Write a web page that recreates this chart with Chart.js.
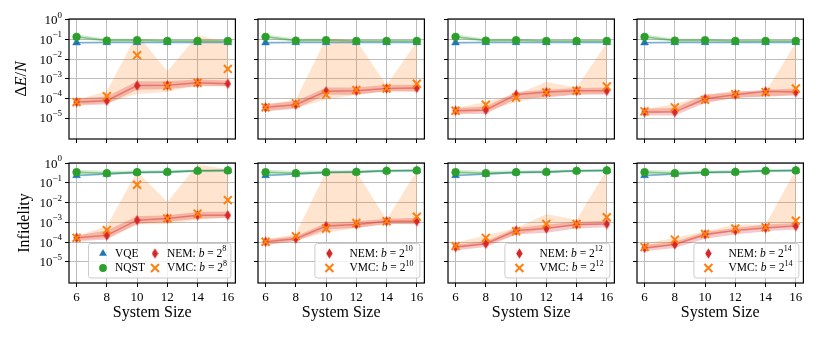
<!DOCTYPE html>
<html>
<head>
<meta charset="utf-8">
<script src="https://cdn.jsdelivr.net/npm/chart.js@4.4.0/dist/chart.umd.min.js"></script>
<style>
  html, body { margin: 0; padding: 0; background: #fff; }
  #wrap { position: relative; width: 822px; height: 338px; overflow: hidden; background: #fff; }
  #wrap canvas { position: absolute; }
</style>
</head>
<body>
<div id="wrap"></div>
<script>
// x axis: system sizes
const sizes = [6, 8, 10, 12, 14, 16];
const xTicks = [6, 8, 10, 12, 14, 16];
const yDecades = [0, -1, -2, -3, -4, -5];
const batchExp = [8, 10, 12, 14];

// --- top row: ΔE/N (VQE / NQST shared by all panels)
const vqeE   = [0.070, 0.072, 0.072, 0.072, 0.072, 0.072];
const vqeELo = [0.064, 0.066, 0.066, 0.066, 0.066, 0.066];
const vqeEHi = [0.077, 0.079, 0.079, 0.079, 0.079, 0.079];
const nqstE   = [0.138, 0.089, 0.093, 0.085, 0.085, 0.085];
const nqstELo = [0.110, 0.076, 0.078, 0.075, 0.075, 0.075];
const nqstEHi = [0.180, 0.115, 0.110, 0.100, 0.100, 0.100];

// b = 2^8
const nemE8    = [6.5e-5, 7.6e-5, 4.5e-4, 4.7e-4, 6.2e-4, 5.6e-4];
const nemE8Lo  = [4.4e-5, 5.1e-5, 2.8e-4, 3.0e-4, 4.2e-4, 4.2e-4];
const nemE8Hi  = [1.0e-4, 1.26e-4, 7.4e-4, 7.4e-4, 9.1e-4, 8.1e-4];
const vmcE8    = [6.5e-5, 1.3e-4, 1.6e-2, 4.3e-4, 6.3e-4, 3.2e-3];
const vmcE8Lo  = [4.8e-5, 5.8e-5, 1.66e-4, 2.1e-4, 4.7e-4, 4.2e-4];
const vmcE8Hi  = [8.5e-5, 2.3e-4, 0.195, 2.4e-3, 0.166, 0.068];
// b = 2^10
const nemE10   = [3.5e-5, 4.8e-5, 2.3e-4, 2.45e-4, 3.2e-4, 3.4e-4];
const nemE10Lo = [2.2e-5, 2.95e-5, 1.55e-4, 1.55e-4, 2.3e-4, 2.3e-4];
const nemE10Hi = [5.1e-5, 7.1e-5, 3.6e-4, 3.6e-4, 5.0e-4, 5.0e-4];
const vmcE10   = [3.5e-5, 5.6e-5, 1.55e-4, 2.7e-4, 3.2e-4, 5.6e-4];
const vmcE10Lo = [2.3e-5, 3.2e-5, 8.5e-5, 1.55e-4, 2.3e-4, 2.1e-4];
const vmcE10Hi = [5.1e-5, 8.5e-5, 0.112, 0.089, 4.7e-4, 0.081];
// b = 2^12
const nemE12   = [2.35e-5, 2.6e-5, 1.55e-4, 2.1e-4, 2.45e-4, 2.45e-4];
const nemE12Lo = [1.6e-5, 1.6e-5, 9.5e-5, 1.1e-4, 1.55e-4, 1.65e-4];
const nemE12Hi = [3.2e-5, 3.9e-5, 2.1e-4, 2.8e-4, 3.4e-4, 3.6e-4];
const vmcE12   = [2.35e-5, 4.8e-5, 1.1e-4, 2.0e-4, 2.45e-4, 4.1e-4];
const vmcE12Lo = [1.6e-5, 2.2e-5, 6.5e-5, 1.26e-4, 1.65e-4, 1.65e-4];
const vmcE12Hi = [3.2e-5, 6.5e-5, 1.65e-4, 6.9e-4, 3.6e-4, 0.068];
// b = 2^14
const nemE14   = [2.0e-5, 2.0e-5, 9.5e-5, 1.55e-4, 2.3e-4, 2.1e-4];
const nemE14Lo = [1.35e-5, 1.35e-5, 5.8e-5, 1.05e-4, 1.26e-4, 1.4e-4];
const nemE14Hi = [2.95e-5, 3.2e-5, 1.55e-4, 2.1e-4, 2.8e-4, 3.2e-4];
const vmcE14   = [2.2e-5, 3.5e-5, 8.5e-5, 1.65e-4, 2.1e-4, 3.2e-4];
const vmcE14Lo = [1.6e-5, 2.2e-5, 6.5e-5, 1.1e-4, 1.26e-4, 1.55e-4];
const vmcE14Hi = [2.95e-5, 5.1e-5, 1.55e-4, 2.45e-4, 2.1e-4, 0.068];

// --- bottom row: infidelity
const vqeI   = [0.24, 0.28, 0.34, 0.36, 0.41, 0.43];
const vqeILo = [0.21, 0.25, 0.30, 0.32, 0.37, 0.39];
const vqeIHi = [0.27, 0.31, 0.38, 0.40, 0.45, 0.47];
const nqstI   = [0.35, 0.31, 0.35, 0.36, 0.41, 0.43];
const nqstILo = [0.26, 0.26, 0.30, 0.31, 0.35, 0.36];
const nqstIHi = [0.46, 0.41, 0.43, 0.45, 0.48, 0.50];

const nemI8    = [1.66e-4, 2.2e-4, 1.3e-3, 1.6e-3, 2.3e-3, 2.3e-3];
const nemI8Lo  = [1.1e-4, 1.35e-4, 8.3e-4, 1.07e-3, 1.55e-3, 1.7e-3];
const nemI8Hi  = [2.2e-4, 3.9e-4, 2.05e-3, 2.3e-3, 3.4e-3, 3.6e-3];
const vmcI8    = [1.66e-4, 4.1e-4, 0.081, 1.6e-3, 2.8e-3, 1.35e-2];
const vmcI8Lo  = [1.2e-4, 1.66e-4, 7.8e-4, 8.3e-4, 1.38e-3, 1.7e-3];
const vmcI8Hi  = [2.0e-4, 6.5e-4, 0.38, 1.07e-2, 0.83, 0.51];

const nemI10   = [1.05e-4, 1.5e-4, 6.5e-4, 7.8e-4, 1.15e-3, 1.15e-3];
const nemI10Lo = [7.1e-5, 1.12e-4, 4.4e-4, 5.2e-4, 8.3e-4, 8.3e-4];
const nemI10Hi = [1.35e-4, 2.0e-4, 9.3e-4, 1.15e-3, 1.55e-3, 1.7e-3];
const vmcI10   = [1.05e-4, 2.0e-4, 4.9e-4, 9.3e-4, 1.15e-3, 1.95e-3];
const vmcI10Lo = [7.1e-5, 1.2e-4, 2.95e-4, 5.2e-4, 8.3e-4, 7.8e-4];
const vmcI10Hi = [1.35e-4, 2.6e-4, 0.38, 0.38, 1.38e-3, 0.41];

const nemI12   = [5.6e-5, 8.3e-5, 3.9e-4, 4.9e-4, 7.8e-4, 8.3e-4];
const nemI12Lo = [3.8e-5, 5.6e-5, 2.45e-4, 2.95e-4, 4.9e-4, 5.7e-4];
const nemI12Hi = [7.6e-5, 1.12e-4, 5.2e-4, 7.8e-4, 1.07e-3, 1.23e-3];
const vmcI12   = [6.3e-5, 1.66e-4, 3.55e-4, 8.3e-4, 8.3e-4, 1.82e-3];
const vmcI12Lo = [4.8e-5, 7.1e-5, 2.45e-4, 4.9e-4, 6.5e-4, 8.3e-4];
const vmcI12Hi = [9.3e-5, 2.2e-4, 5.2e-4, 2.7e-3, 1.38e-3, 0.46];

const nemI14   = [5.1e-5, 7.6e-5, 2.45e-4, 3.9e-4, 5.2e-4, 6.5e-4];
const nemI14Lo = [3.5e-5, 5.1e-5, 1.5e-4, 2.45e-4, 3.55e-4, 4.4e-4];
const nemI14Hi = [7.1e-5, 1.05e-4, 3.3e-4, 5.2e-4, 7.8e-4, 9.3e-4];
const vmcI14   = [5.6e-5, 1.35e-4, 2.6e-4, 4.9e-4, 5.7e-4, 1.23e-3];
const vmcI14Lo = [4.3e-5, 7.1e-5, 2.0e-4, 3.9e-4, 4.9e-4, 6.5e-4];
const vmcI14Hi = [8.3e-5, 1.66e-4, 3.55e-4, 7.8e-4, 7.8e-4, 0.46];

// layout
const plotLeft = [69, 258, 448, 637];
const plotTop = [19, 163];
const plotW = 168, plotH = 120;
const yRange = [[Math.pow(10, -6.07), Math.pow(10, 0.05)], [Math.pow(10, -6.07), Math.pow(10, 0.01)]];

const SERIF = '"Liberation Serif", "DejaVu Serif", serif';
const BLUE = '#1f77b4', GREEN = '#2ca02c', RED = '#d62728', ORANGE = '#ff7f0e';
const GRID = '#bdbdbd';

Chart.defaults.font.family = SERIF;

// thin diamond marker (matplotlib 'd')
const diamond = document.createElement('canvas');
diamond.width = 7; diamond.height = 11;
(function() {
    const c = diamond.getContext('2d');
    c.fillStyle = RED;
    c.beginPath();
    c.moveTo(3.5, 0.3); c.lineTo(6.7, 5.5); c.lineTo(3.5, 10.7); c.lineTo(0.3, 5.5);
    c.closePath();
    c.fill();
})();

function fnt(size, it) { return (it ? 'italic ' : '') + size + 'px ' + SERIF; }

function richWidth(ctx, parts) {
    let w = 0;
    parts.forEach(function(p) { ctx.font = fnt(p.size, p.it); w += ctx.measureText(p.t).width; });
    return w;
}

function drawRich(ctx, parts, x, y) {
    ctx.textBaseline = 'middle';
    ctx.textAlign = 'left';
    parts.forEach(function(p) {
        ctx.font = fnt(p.size, p.it);
        ctx.fillText(p.t, x, y + (p.dy || 0));
        x += ctx.measureText(p.t).width;
    });
}

function drawMarker(ctx, kind, x, y) {
    ctx.save();
    if (kind === 'tri') {
        const r = 4.5;
        ctx.fillStyle = BLUE;
        ctx.beginPath();
        ctx.moveTo(x, y - r);
        ctx.lineTo(x + r * 0.866, y + r * 0.5);
        ctx.lineTo(x - r * 0.866, y + r * 0.5);
        ctx.closePath();
        ctx.fill();
    } else if (kind === 'circ') {
        ctx.fillStyle = GREEN;
        ctx.beginPath();
        ctx.arc(x, y, 3.9, 0, Math.PI * 2);
        ctx.fill();
    } else if (kind === 'dia') {
        ctx.drawImage(diamond, x - 3.5, y - 5.5);
    } else {
        ctx.strokeStyle = ORANGE;
        ctx.lineWidth = 2;
        ctx.beginPath();
        ctx.moveTo(x - 4, y - 4); ctx.lineTo(x + 4, y + 4);
        ctx.moveTo(x - 4, y + 4); ctx.lineTo(x + 4, y - 4);
        ctx.stroke();
    }
    ctx.restore();
}

function pts(arr) {
    return sizes.map(function(s, i) { return { x: s, y: arr[i] }; });
}

function band(hi, lo, color, order) {
    return [
        { data: pts(hi), fill: '+1', backgroundColor: color, borderColor: 'transparent', borderWidth: 0, pointRadius: 0, order: order },
        { data: pts(lo), fill: false, borderColor: 'transparent', borderWidth: 0, pointRadius: 0, order: order }
    ];
}

// decorations: frame, y tick labels, y title, legend
function decoPlugin(p) {
    return {
        id: 'deco',
        afterDraw: function(chart) {
            const ctx = chart.ctx, ca = chart.chartArea;
            ctx.save();
            ctx.strokeStyle = '#000';
            ctx.lineWidth = 1.2;
            ctx.strokeRect(ca.left, ca.top, ca.right - ca.left, ca.bottom - ca.top);
            ctx.fillStyle = '#000';

            if (p.col === 0) {
                const ys = chart.scales.y;
                yDecades.forEach(function(k) {
                    const y = ys.getPixelForValue(Math.pow(10, k));
                    const parts = [
                        { t: '10', size: 13 },
                        { t: k === 0 ? '0' : '\u2212' + (-k), size: 9, dy: -5.5 }
                    ];
                    drawRich(ctx, parts, ca.left - 7 - richWidth(ctx, parts), y + 1);
                });
                const title = p.row === 0
                    ? [{ t: '\u0394', size: 16 }, { t: 'E', size: 16, it: true }, { t: '/', size: 16 }, { t: 'N', size: 16, it: true }]
                    : [{ t: 'Infidelity', size: 16 }];
                const cy = (ca.top + ca.bottom) / 2;
                ctx.save();
                ctx.translate(p.row === 0 ? 22 : 25, cy);
                ctx.rotate(-Math.PI / 2);
                drawRich(ctx, title, -richWidth(ctx, title) / 2, 0);
                ctx.restore();
            }

            if (p.row === 1) drawLegend(ctx, ca, p);
            ctx.restore();
        }
    };
}

function drawLegend(ctx, ca, p) {
    const right = ca.right - 5;
    const top = ca.bottom - 40;
    const bottom = ca.bottom - 5.5;
    const left = p.col === 0 ? ca.left + 19 : right - 105;
    const rows = [ca.bottom - 29.5, ca.bottom - 15];

    ctx.save();
    ctx.beginPath();
    ctx.roundRect(left + 0.5, top + 0.5, right - left, bottom - top, 2.5);
    ctx.fillStyle = 'rgba(255,255,255,0.8)';
    ctx.fill();
    ctx.strokeStyle = '#cccccc';
    ctx.lineWidth = 1;
    ctx.stroke();
    ctx.restore();

    const LS = 11.5;
    const exp = String(p.b);
    const nemLabel = [{ t: 'NEM: ', size: LS }, { t: 'b', size: LS, it: true }, { t: ' = 2', size: LS }, { t: exp, size: 8, dy: -4.5 }];
    const vmcLabel = [{ t: 'VMC: ', size: LS }, { t: 'b', size: LS, it: true }, { t: ' = 2', size: LS }, { t: exp, size: 8, dy: -4.5 }];

    ctx.fillStyle = '#000';
    if (p.col === 0) {
        drawMarker(ctx, 'tri', left + 15, rows[0]);
        drawRich(ctx, [{ t: 'VQE', size: LS }], left + 27, rows[0]);
        drawMarker(ctx, 'circ', left + 15, rows[1]);
        drawRich(ctx, [{ t: 'NQST', size: LS }], left + 27, rows[1]);
        drawMarker(ctx, 'dia', left + 67, rows[0]);
        drawRich(ctx, nemLabel, left + 79, rows[0]);
        drawMarker(ctx, 'x', left + 67, rows[1]);
        drawRich(ctx, vmcLabel, left + 79, rows[1]);
    } else {
        drawMarker(ctx, 'dia', left + 15, rows[0]);
        drawRich(ctx, nemLabel, left + 35, rows[0]);
        drawMarker(ctx, 'x', left + 15, rows[1]);
        drawRich(ctx, vmcLabel, left + 35, rows[1]);
    }
}

function makeChart(p) {
    const wrap = document.getElementById('wrap');
    const yW = p.col === 0 ? 69 : 12;
    const xH = p.row === 1 ? 55 : 8;
    const w = yW + plotW + 6, h = 10 + plotH + xH;
    const cv = document.createElement('canvas');
    cv.width = w; cv.height = h;
    cv.style.width = w + 'px'; cv.style.height = h + 'px';
    cv.style.left = (plotLeft[p.col] - yW) + 'px';
    cv.style.top = (plotTop[p.row] - 10) + 'px';
    wrap.appendChild(cv);

    const datasets = []
        .concat(band(p.vqeHi, p.vqeLo, 'rgba(31,119,180,0.2)', 9))
        .concat(band(p.nqstHi, p.nqstLo, 'rgba(44,160,44,0.2)', 8))
        .concat(band(p.vmcHi, p.vmcLo, 'rgba(255,127,14,0.2)', 7))
        .concat(band(p.nemHi, p.nemLo, 'rgba(214,39,40,0.25)', 6))
        .concat([
            { data: pts(p.vqe), borderColor: 'rgba(31,119,180,0.5)', borderWidth: 1.5, fill: false,
              pointStyle: 'triangle', pointRadius: 4.5, pointBackgroundColor: BLUE, pointBorderColor: BLUE, pointBorderWidth: 0.5, order: 5 },
            { data: pts(p.nqst), borderColor: 'rgba(44,160,44,0.5)', borderWidth: 1.5, fill: false,
              pointStyle: 'circle', pointRadius: 3.9, pointBackgroundColor: GREEN, pointBorderColor: GREEN, pointBorderWidth: 0.5, order: 4 },
            { data: pts(p.nem), borderColor: 'rgba(214,39,40,0.45)', borderWidth: 1.5, fill: false,
              pointStyle: diamond, pointRadius: 5, order: 3 },
            { data: pts(p.vmc), showLine: false, fill: false,
              pointStyle: 'crossRot', pointRadius: 5.6, pointBorderColor: ORANGE, pointBorderWidth: 2, order: 2 }
        ]);

    new Chart(cv, {
        type: 'line',
        data: { datasets: datasets },
        options: {
            responsive: false,
            animation: false,
            events: [],
            devicePixelRatio: 1,
            layout: { padding: { top: 10, right: 6, left: 0, bottom: 0 } },
            elements: { line: { tension: 0 } },
            plugins: { legend: { display: false }, tooltip: { enabled: false } },
            scales: {
                x: {
                    type: 'linear', min: 5.5, max: 16.5,
                    afterBuildTicks: function(s) { s.ticks = xTicks.map(function(v) { return { value: v }; }); },
                    afterFit: function(s) { s.height = xH; },
                    ticks: { display: p.row === 1, color: '#000', font: { family: SERIF, size: 13 }, padding: 3, maxRotation: 0, autoSkip: false },
                    grid: { color: GRID, lineWidth: 1, tickLength: 4, tickColor: '#000', tickWidth: 1 },
                    border: { display: false },
                    title: { display: p.row === 1, text: 'System Size', color: '#000', font: { family: SERIF, size: 16 }, padding: { top: 0, bottom: 16 } }
                },
                y: {
                    type: 'logarithmic', min: yRange[p.row][0], max: yRange[p.row][1],
                    afterBuildTicks: function(s) { s.ticks = yDecades.map(function(k) { return { value: Math.pow(10, k) }; }); },
                    afterFit: function(s) { s.width = yW; },
                    ticks: { display: false },
                    grid: { color: GRID, lineWidth: 1, tickLength: 4, tickColor: '#000', tickWidth: 1 },
                    border: { display: false }
                }
            }
        },
        plugins: [decoPlugin(p)]
    });
}

const topNem = [[nemE8, nemE8Lo, nemE8Hi], [nemE10, nemE10Lo, nemE10Hi], [nemE12, nemE12Lo, nemE12Hi], [nemE14, nemE14Lo, nemE14Hi]];
const topVmc = [[vmcE8, vmcE8Lo, vmcE8Hi], [vmcE10, vmcE10Lo, vmcE10Hi], [vmcE12, vmcE12Lo, vmcE12Hi], [vmcE14, vmcE14Lo, vmcE14Hi]];
const botNem = [[nemI8, nemI8Lo, nemI8Hi], [nemI10, nemI10Lo, nemI10Hi], [nemI12, nemI12Lo, nemI12Hi], [nemI14, nemI14Lo, nemI14Hi]];
const botVmc = [[vmcI8, vmcI8Lo, vmcI8Hi], [vmcI10, vmcI10Lo, vmcI10Hi], [vmcI12, vmcI12Lo, vmcI12Hi], [vmcI14, vmcI14Lo, vmcI14Hi]];

batchExp.forEach(function(b, col) {
    makeChart({
        row: 0, col: col, b: b,
        vqe: vqeE, vqeLo: vqeELo, vqeHi: vqeEHi,
        nqst: nqstE, nqstLo: nqstELo, nqstHi: nqstEHi,
        nem: topNem[col][0], nemLo: topNem[col][1], nemHi: topNem[col][2],
        vmc: topVmc[col][0], vmcLo: topVmc[col][1], vmcHi: topVmc[col][2]
    });
    makeChart({
        row: 1, col: col, b: b,
        vqe: vqeI, vqeLo: vqeILo, vqeHi: vqeIHi,
        nqst: nqstI, nqstLo: nqstILo, nqstHi: nqstIHi,
        nem: botNem[col][0], nemLo: botNem[col][1], nemHi: botNem[col][2],
        vmc: botVmc[col][0], vmcLo: botVmc[col][1], vmcHi: botVmc[col][2]
    });
});
</script>
</body>
</html>
